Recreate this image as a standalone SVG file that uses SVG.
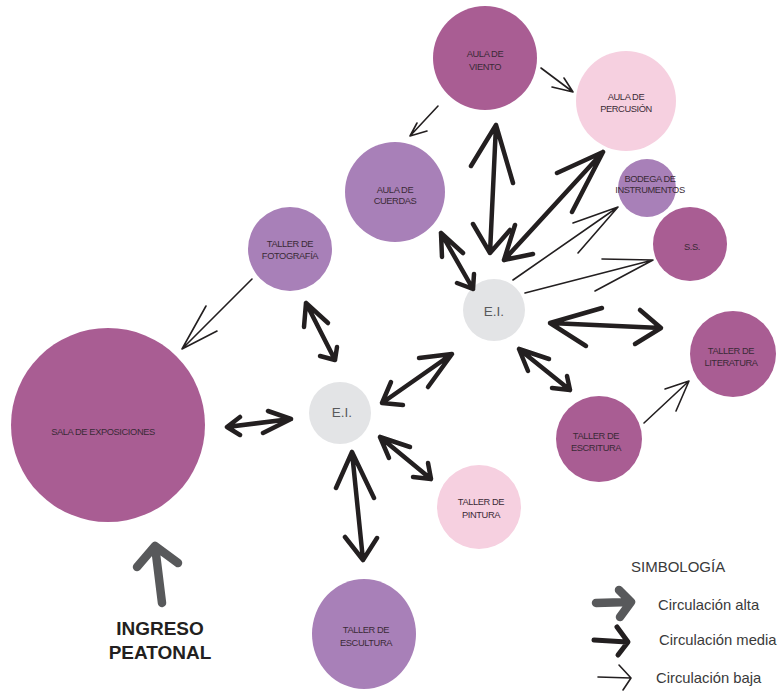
<svg xmlns="http://www.w3.org/2000/svg" width="778" height="694" viewBox="0 0 778 694">
<style>
.mag{fill:#A95D93}
.lav{fill:#A880B8}
.pink{fill:#F6D0E0}
.grey{fill:#E3E4E6}
.t{font-family:"Liberation Sans",Arial,sans-serif;font-size:9.3px;fill:#3a2a36;text-anchor:middle;letter-spacing:-0.4px}
.ei{font-family:"Liberation Sans",Arial,sans-serif;font-size:13.5px;fill:#58595B;text-anchor:middle}
.m{fill:none;stroke:#231F20;stroke-width:4.5;stroke-linecap:round;stroke-linejoin:round}
.b{fill:none;stroke:#231F20;stroke-width:1.6;stroke-linecap:round;stroke-linejoin:round}
.a{fill:none;stroke:#58595B;stroke-width:8.5;stroke-linecap:round;stroke-linejoin:round}
.leg{font-family:"Liberation Sans",Arial,sans-serif;font-size:14.8px;fill:#3a3a3a}
.ing{font-family:"Liberation Sans",Arial,sans-serif;font-size:19px;font-weight:bold;fill:#231F20;text-anchor:middle}
</style>
<rect width="778" height="694" fill="#fff"/>

<g id="aula-viento"><circle class="mag" cx="485" cy="58" r="52"/><text class="t" x="485" y="57">AULA DE</text><text class="t" x="485" y="70">VIENTO</text></g>
<g id="aula-percusion"><circle class="pink" cx="626" cy="101" r="50"/><text class="t" x="626" y="100">AULA DE</text><text class="t" x="626" y="112">PERCUSIÓN</text></g>
<g id="aula-cuerdas"><circle class="lav" cx="395" cy="192" r="50"/><text class="t" x="395" y="193">AULA DE</text><text class="t" x="395" y="204">CUERDAS</text></g>
<g id="bodega"><circle class="lav" cx="647" cy="188" r="29"/><text class="t" x="650" y="182">BODEGA DE</text><text class="t" x="650" y="193">INSTRUMENTOS</text></g>
<g id="ss"><circle class="mag" cx="690" cy="244" r="37"/><text class="t" x="692" y="250">S.S.</text></g>
<g id="ei-top"><circle class="grey" cx="494" cy="310" r="31"/><text class="ei" x="494" y="316">E.I.</text></g>
<g id="taller-literatura"><circle class="mag" cx="733" cy="354" r="43"/><text class="t" x="731" y="354">TALLER DE</text><text class="t" x="731" y="366">LITERATURA</text></g>
<g id="taller-escritura"><circle class="mag" cx="599" cy="439" r="43"/><text class="t" x="596" y="439">TALLER DE</text><text class="t" x="596" y="451">ESCRITURA</text></g>
<g id="taller-fotografia"><circle class="lav" cx="290" cy="249" r="42"/><text class="t" x="290" y="247">TALLER DE</text><text class="t" x="290" y="259">FOTOGRAFÍA</text></g>
<g id="ei-left"><circle class="grey" cx="340" cy="413" r="31"/><text class="ei" x="342" y="417">E.I.</text></g>
<g id="taller-pintura"><circle class="pink" cx="479" cy="507" r="42"/><text class="t" x="481" y="505">TALLER DE</text><text class="t" x="481" y="518">PINTURA</text></g>
<g id="sala-exposiciones"><circle class="mag" cx="108" cy="425" r="97"/><text class="t" x="103" y="435">SALA DE EXPOSICIONES</text></g>
<g id="taller-escultura"><ellipse class="lav" cx="364" cy="634" rx="52" ry="55"/><text class="t" x="366" y="633">TALLER DE</text><text class="t" x="366" y="646">ESCULTURA</text></g>

<g id="connectors">
<path class="m" d="M471 166L496 125L513 183M496 125L490 253M473 224L490 253L510 230"/>
<path class="m" d="M557 173L603 152L572 212M603 152L504 260M515 225L504 260L533 254"/>
<path class="m" d="M442 257L441 233L463 253M441 233L473 289M457 283L473 289L474 274"/>
<path class="m" d="M602 308L550 323L586 346M550 323L661 328M640 310L661 328L635 344"/>
<path class="m" d="M549 359L519 349L528 371M519 349L570 390M567 376L570 390L552 388"/>
<path class="m" d="M403 405L382 403L391 382M382 403L452 354M419 358L452 354L428 387"/>
<path class="m" d="M304 327L306 303L328 323M306 303L335 360M337 347L335 360L320 356"/>
<path class="m" d="M240 417L227 427L240 435M227 427L291 419M268 411L291 419L263 433"/>
<path class="m" d="M410 447L380 437L389 458M380 437L431 479M428 463L431 479L413 477"/>
<path class="m" d="M336 488L352 452L374 498M352 452L363 560M345 537L363 560L377 538"/>
<path class="b" d="M438 106L410 136M417 123L410 136L427 131"/>
<path class="b" d="M541 68L573 92M564 78L573 92L552 87"/>
<path class="b" d="M513 280L618 207M573 223L618 207L578 253"/>
<path class="b" d="M525 293L653 260M602 259L653 260L595 291"/>
<path class="b" d="M252 279L182 349M206 306L182 349L217 331"/>
<path class="b" d="M644 423L689 381M665 389L689 381L676 411"/>
</g>

<g id="ingreso">
<path class="a" d="M162 603L155 546M137 567L155 546L178 563"/>
<text class="ing" x="160" y="635">INGRESO</text>
<text class="ing" x="160" y="659">PEATONAL</text>
</g>

<g id="simbologia">
<text class="leg" x="631" y="572" style="font-size:15px">SIMBOLOGÍA</text>
<path class="a" d="M596 603L630 602M619 590L631 602L620 617"/>
<text class="leg" x="658" y="610">Circulación alta</text>
<path class="m" style="stroke-width:5" d="M594 640L627 642M617 627L628 642L618 655"/>
<text class="leg" x="659" y="645">Circulación media</text>
<path class="b" d="M598 677L631 678M619 665L631 678L623 690"/>
<text class="leg" x="656" y="683">Circulación baja</text>
</g>
</svg>
